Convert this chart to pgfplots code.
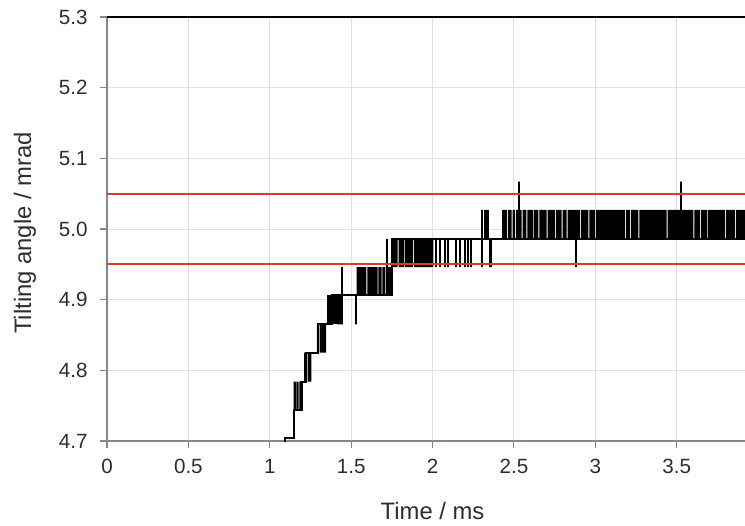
\documentclass[border=0pt]{standalone}
\usepackage{fontspec}
\setmainfont{Liberation Sans}
\usepackage{pgfplots}
\pgfplotsset{compat=1.18}
\usetikzlibrary{calc}
\definecolor{axgray}{RGB}{128,136,144}
\definecolor{gridgray}{RGB}{222,225,228}
\definecolor{limred}{RGB}{214,62,44}
\definecolor{txt}{RGB}{45,45,45}

\begin{document}
\begin{tikzpicture}
\begin{axis}[name=ax,
  scale only axis, width=319pt, height=212pt,
  xmin=0, xmax=3.92, ymin=4.7, ymax=5.3,
  axis lines*=left,
  axis line style={axgray, line width=1.1pt, -},
  xtick={0,0.5,1,1.5,2,2.5,3,3.5},
  ytick={4.7,4.8,4.9,5.0,5.1,5.2,5.3},
  grid=major, major grid style={gridgray, line width=0.5pt},
  tick align=outside, major tick length=3.5pt,
  tick style={axgray, line width=0.6pt},
  /pgf/number format/assume math mode=true,
  ticklabel style={font=\fontsize{10.3}{12}\selectfont, inner sep=0pt, text=txt},
  xticklabel style={anchor=north, yshift=-5.3pt},
  yticklabel style={anchor=east, xshift=-6pt, /pgf/number format/.cd, fixed, fixed zerofill, precision=1},
  xlabel={Time / ms},
  xlabel style={at={(axis cs:2,4.7)}, anchor=base, yshift=-39pt, text=txt, font=\fontsize{11.9}{14}\selectfont},
]
% solid toggling blocks (lower level, upper level)
\addplot[draw=none, fill=black] coordinates {(1.140,4.704)(1.140,4.744)(1.156,4.744)(1.156,4.704)};
\addplot[draw=none, fill=black] coordinates {
  (1.147,4.744)(1.147,4.784)(1.163,4.784)(1.163,4.744)
  (1.167,4.744)(1.167,4.784)(1.178,4.784)(1.178,4.744)
  (1.182,4.744)(1.182,4.784)(1.202,4.784)(1.202,4.744)};
\addplot[draw=none, fill=black] coordinates {
  (1.211,4.784)(1.211,4.825)(1.228,4.825)(1.228,4.784)
  (1.232,4.784)(1.232,4.825)(1.255,4.825)(1.255,4.784)};
\addplot[draw=none, fill=black] coordinates {
  (1.289,4.825)(1.289,4.865)(1.305,4.865)(1.305,4.825)
  (1.309,4.825)(1.309,4.865)(1.347,4.865)(1.347,4.825)};
\addplot[draw=none, fill=black] coordinates {(1.351,4.865)(1.351,4.906)(1.411,4.906)(1.411,4.865)};
\addplot[draw=none, fill=black] coordinates {
  (1.533,4.906)(1.533,4.946)(1.594,4.946)(1.594,4.906)
  (1.599,4.906)(1.599,4.946)(1.662,4.946)(1.662,4.906)
  (1.667,4.906)(1.667,4.946)(1.687,4.946)(1.687,4.906)
  (1.692,4.906)(1.692,4.946)(1.707,4.946)(1.707,4.906)
  (1.712,4.906)(1.712,4.946)(1.751,4.946)(1.751,4.906)};
\addplot[draw=none, fill=black] coordinates {
  (1.756,4.946)(1.756,4.986)(1.786,4.986)(1.786,4.946)
  (1.792,4.946)(1.792,4.986)(1.827,4.986)(1.827,4.946)
  (1.832,4.946)(1.832,4.986)(1.881,4.986)(1.881,4.946)
  (1.887,4.946)(1.887,4.986)(2.006,4.986)(2.006,4.946)};
\addplot[draw=none, fill=black] coordinates {
  (2.427,4.986)(2.427,5.027)(2.457,5.027)(2.457,4.986)
  (2.463,4.986)(2.463,5.027)(2.486,5.027)(2.486,4.986)
  (2.492,4.986)(2.492,5.027)(2.506,5.027)(2.506,4.986)
  (2.512,4.986)(2.512,5.027)(2.547,5.027)(2.547,4.986)
  (2.553,4.986)(2.553,5.027)(2.577,5.027)(2.577,4.986)
  (2.583,4.986)(2.583,5.027)(2.619,5.027)(2.619,4.986)
  (2.625,4.986)(2.625,5.027)(2.650,5.027)(2.650,4.986)
  (2.656,4.986)(2.656,5.027)(2.701,5.027)(2.701,4.986)
  (2.707,4.986)(2.707,5.027)(2.752,5.027)(2.752,4.986)
  (2.758,4.986)(2.758,5.027)(2.793,5.027)(2.793,4.986)
  (2.799,4.986)(2.799,5.027)(2.824,5.027)(2.824,4.986)
  (2.830,4.986)(2.830,5.027)(2.906,5.027)(2.906,4.986)
  (2.912,4.986)(2.912,5.027)(2.957,5.027)(2.957,4.986)
  (2.963,4.986)(2.963,5.027)(2.998,5.027)(2.998,4.986)
  (3.004,4.986)(3.004,5.027)(3.183,5.027)(3.183,4.986)
  (3.189,4.986)(3.189,5.027)(3.214,5.027)(3.214,4.986)
  (3.220,4.986)(3.220,5.027)(3.265,5.027)(3.265,4.986)
  (3.271,4.986)(3.271,5.027)(3.439,5.027)(3.439,4.986)
  (3.445,4.986)(3.445,5.027)(3.603,5.027)(3.603,4.986)
  (3.609,4.986)(3.609,5.027)(3.644,5.027)(3.644,4.986)
  (3.650,4.986)(3.650,5.027)(3.685,5.027)(3.685,4.986)
  (3.691,4.986)(3.691,5.027)(3.798,5.027)(3.798,4.986)
  (3.804,4.986)(3.804,5.027)(3.859,5.027)(3.859,4.986)
  (3.865,4.986)(3.865,5.027)(3.950,5.027)(3.950,4.986)};
% measured trace
\addplot[black, line width=1.05pt, line join=miter] coordinates {
  (1.095,4.650)(1.095,4.704)(1.148,4.704)(1.148,4.744)
  (1.195,4.744)(1.195,4.784)(1.220,4.784)(1.220,4.825)
  (1.296,4.825)(1.296,4.865)(1.380,4.865)(1.380,4.906)
  (1.420,4.906)(1.420,4.865)(1.420,4.906)
  (1.431,4.906)(1.431,4.865)(1.431,4.906)
  (1.446,4.906)(1.446,4.946)(1.446,4.865)(1.446,4.906)
  (1.531,4.906)(1.531,4.865)(1.531,4.906)
  (1.722,4.906)(1.722,4.986)(1.722,4.906)
  (1.749,4.906)(1.749,4.986)
  (2.022,4.986)(2.022,4.946)(2.022,4.986)
  (2.045,4.986)(2.045,4.946)(2.045,4.986)
  (2.075,4.986)(2.075,4.946)(2.075,4.986)
  (2.097,4.986)(2.097,4.946)(2.097,4.986)
  (2.147,4.986)(2.147,4.946)(2.147,4.986)
  (2.168,4.986)(2.168,4.946)(2.168,4.986)
  (2.198,4.986)(2.198,4.946)(2.198,4.986)
  (2.218,4.986)(2.218,4.946)(2.218,4.986)
  (2.238,4.986)(2.238,4.946)(2.238,4.986)
  (2.302,4.986)(2.302,4.946)(2.302,5.027)(2.302,4.986)
  (2.322,4.986)(2.322,5.027)(2.322,4.986)
  (2.338,4.986)(2.338,5.027)(2.338,4.986)
  (2.356,4.986)(2.356,4.946)(2.356,4.986)
  (2.530,4.986)(2.530,5.067)(2.530,4.986)
  (2.880,4.986)(2.880,4.946)(2.880,4.986)
  (3.524,4.986)(3.524,5.067)(3.524,4.986)
  (3.950,4.986)};
% tolerance limits
\addplot[limred, line width=1pt] coordinates {(0,5.05)(3.92,5.05)};
\addplot[limred, line width=1pt] coordinates {(0,4.95)(3.92,4.95)};
\end{axis}
\draw[black, line width=0.8pt] (ax.north west) -- (ax.north east);
\node[rotate=90, anchor=base, text=txt, font=\fontsize{11.9}{14}\selectfont]
  at ($(ax.south west)!0.5!(ax.north west)+(-38pt,-2pt)$) {Tilting angle / mrad};
\pgfresetboundingbox
\path[use as bounding box] ($(ax.south west)+(-53.5pt,-42pt)$) rectangle ($(ax.north east)+(0,8.5pt)$);
\end{tikzpicture}
\end{document}
